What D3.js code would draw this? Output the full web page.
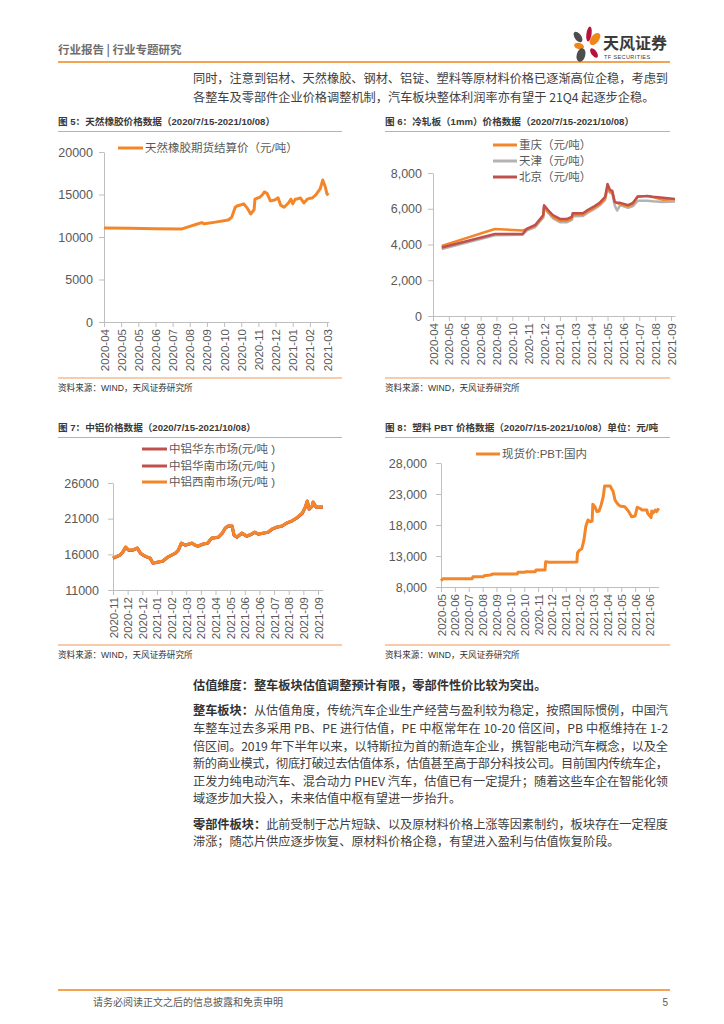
<!DOCTYPE html>
<html><head><meta charset="utf-8">
<script src="https://cdn.jsdelivr.net/npm/d3@7"></script>
<style>body{margin:0;background:#fff}</style>
</head><body>
<svg id="c" width="724" height="1024"></svg>
<script>
// ---------------- DATA ----------------
const rubberLabels = ["2020-04","2020-05","2020-05","2020-06","2020-07","2020-08","2020-09","2020-10","2020-10","2020-11","2020-12","2021-01","2021-02","2021-03"];
const rubberX = [0,30,60,91,100,108,114,117,130,145,149,153,155,160,163,167,171,175,176,182,185,187,190,194,199,203,206,210,215,218,220,223,226,229,233,237,240,243,247,252,255,258,260,262];
const rubberPrice = [11060,11020,10980,10950,11250,11500,11700,11550,11750,12000,12350,13500,13650,13800,13900,13400,12700,13200,14450,14700,15000,15300,15150,14250,14350,14600,13750,13500,14000,14450,13900,14450,14500,14600,14000,14450,14550,14600,14950,15650,16700,15900,15050,14950];
const rubberTicks = [0,5000,10000,15000,20000];

const steelLabels = ["2020-04","2020-05","2020-06","2020-08","2020-09","2020-10","2020-11","2020-12","2021-01","2021-03","2021-04","2021-05","2021-06","2021-07","2021-08","2021-09"];
const steelX = [11,78,113,118,129,135,139,140,145,151,160,169,175,176,189,195,202,210,217,220,223,226,229,232,236,246,252,258,270,277,290,305];
const steelChongqing = [3920,4870,4780,4850,5050,5380,5600,6100,5850,5550,5330,5330,5450,5650,5680,5850,6020,6250,6580,7250,6950,6900,6380,6330,6250,6150,6250,6700,6700,6650,6500,6530];
const steelTianjin = [3740,4520,4550,4780,4980,5300,5500,6050,5780,5480,5250,5250,5380,5580,5600,5780,5950,6180,6500,7150,6900,6850,6200,5900,6200,6050,6150,6450,6450,6420,6380,6400];
const steelBeijing = [3830,4590,4590,4870,5100,5430,5650,6200,5930,5650,5430,5430,5550,5750,5750,5930,6100,6330,6670,7390,7060,7000,6390,6330,6330,6200,6330,6670,6720,6670,6610,6550];
const steelTicks = [0,2000,4000,6000,8000];

const aluLabels = ["2020-11","2020-12","2020-12","2021-01","2021-02","2021-03","2021-03","2021-04","2021-05","2021-06","2021-06","2021-07","2021-08","2021-09","2021-09"];
const aluX = [0,7,10,13,16,20,25,28,31,35,38,41,46,51,56,64,67,70,74,81,84,87,92,97,101,108,112,115,118,122,124,127,132,137,142,145,149,154,159,163,168,173,178,183,188,194,197,199,201,204,205,208,212,215];
const aluHuadong = [15450,15860,16290,16990,16560,16560,16860,16150,15860,15590,15450,14750,14890,15030,15590,16150,16570,17550,17270,17550,17270,17130,17410,17550,18250,18390,18950,19660,19940,19940,18670,18390,18950,18530,18810,19090,18810,18950,19090,19520,19800,19940,20360,20640,21060,21760,22600,23440,22320,22740,23300,22600,22600,22600];
const aluHuanan = [15470,15880,16310,17010,16580,16580,16880,16170,15880,15610,15470,14770,14910,15050,15610,16170,16590,17570,17290,17570,17290,17150,17430,17570,18270,18410,18970,19680,19960,19960,18690,18410,18970,18550,18830,19110,18830,18970,19110,19540,19820,19960,20380,20660,21080,21780,22620,23460,22340,22760,23320,22620,22620,22620];
const aluXinan = [15490,15900,16330,17030,16600,16600,16900,16190,15900,15630,15490,14790,14930,15070,15630,16190,16610,17590,17310,17590,17310,17170,17450,17590,18290,18430,18990,19700,19980,19980,18710,18430,18990,18570,18850,19130,18850,18990,19130,19560,19840,19980,20400,20680,21100,21800,22640,23480,22360,22780,23340,22640,22640,22640];
const aluTicks = [11000,16000,21000,26000];

const pbtLabels = ["2020-05","2020-06","2020-07","2020-08","2020-09","2020-10","2020-10","2020-11","2020-12","2021-01","2021-02","2021-03","2021-04","2021-05","2021-06","2021-06"];
const pbtX = [0,3,45,46,61,62,71,75,110,111,121,122,136,137,150,151,156,196,197,200,203,206,209,212,215,218,219,222,225,228,231,234,236,244,247,248,251,254,258,265,270,275,280,283,287,290,297,298,303,304,306,309,311,314];
const pbtPrice = [9010,9340,9340,9660,9660,9800,9940,10100,10100,10370,10370,10470,10470,10740,10740,12080,12000,12030,13530,13970,14130,15470,17840,18810,18530,18650,21340,20950,20150,20260,21230,22560,24290,24290,23650,23530,22030,21500,21060,20950,20310,19340,19450,20850,20690,20420,20420,19890,19180,20260,19940,20420,20150,20690];
const pbtTicks = [8000,13000,18000,23000,28000];

const headerText = "行业报告 | 行业专题研究";
const introLines = ["同时，注意到铝材、天然橡胶、钢材、铝锭、塑料等原材料价格已逐渐高位企稳，考虑到",
                    "各整车及零部件企业价格调整机制，汽车板块整体利润率亦有望于 21Q4 起逐步企稳。"];
const valHeading = "估值维度：整车板块估值调整预计有限，零部件性价比较为突出。";
const vehicleLead = "整车板块：";
const vehicleLines = ["从估值角度，传统汽车企业生产经营与盈利较为稳定，按照国际惯例，中国汽",
  "车整车过去多采用 PB、PE 进行估值，PE 中枢常年在 10-20 倍区间，PB 中枢维持在 1-2",
  "倍区间。2019 年下半年以来，以特斯拉为首的新造车企业，携智能电动汽车概念，以及全",
  "新的商业模式，彻底打破过去估值体系，估值甚至高于部分科技公司。目前国内传统车企，",
  "正发力纯电动汽车、混合动力 PHEV 汽车，估值已有一定提升；随着这些车企在智能化领",
  "域逐步加大投入，未来估值中枢有望进一步抬升。"];
const partsLead = "零部件板块：";
const partsLines = ["此前受制于芯片短缺、以及原材料价格上涨等因素制约，板块存在一定程度",
  "滞涨；随芯片供应逐步恢复、原材料价格企稳，有望进入盈利与估值恢复阶段。"];
const sourceText = "资料来源：WIND，天风证券研究所";
const footerText = "请务必阅读正文之后的信息披露和免责申明";
const pageNo = "5";

// ---------------- DRAWING ----------------
const svg = d3.select("#c");
svg.append("rect").attr("width",724).attr("height",1024).attr("fill","#fff");
const CJK = "'Noto Sans CJK SC','Liberation Sans',sans-serif";
const MIX = "'Liberation Sans','Noto Sans CJK SC',sans-serif";
const ORANGE = "#F4862A", RED = "#C0504D", GRAY = "#B3B3B3", AXIS = "#BFBFBF", LBL = "#595959";

// header
svg.append("text").attr("x",58).attr("y",54).attr("font-family",CJK).attr("font-size",11.5)
  .attr("font-weight","bold").attr("fill","#6e6e6e").text(headerText);
svg.append("line").attr("x1",58).attr("x2",670).attr("y1",62).attr("y2",62).attr("stroke","#F08519").attr("stroke-width",1.5);
// logo
const petals = [
  [589,34,2.6,7.5,8,"#B5123E"],[578,37,3.3,6,-35,"#4D4D4D"],[595,39,4,7,38,"#F08519"],
  [579,46,3,5,-75,"#F08519"],[581,55,4.3,7,15,"#4D4D4D"],[594,53,2.8,5.5,-35,"#B5123E"]];
const lg = svg.append("g");
petals.forEach(p => lg.append("ellipse").attr("cx",0).attr("cy",0).attr("rx",p[2]).attr("ry",p[3])
  .attr("fill",p[5]).attr("transform",`translate(${p[0]},${p[1]}) rotate(${p[4]})`));
svg.append("text").attr("x",603).attr("y",49).attr("font-family",CJK).attr("font-size",16).attr("font-weight","bold")
  .attr("fill","#3a3a3a").text("天风证券");
svg.append("text").attr("x",604).attr("y",59).attr("font-family",MIX).attr("font-size",5.5).attr("letter-spacing",0.4)
  .attr("fill","#3a3a3a").text("TF SECURITIES");

// paragraph helper
function textLine(x, y, parts, fullWidth) {
  let cx = x;
  parts.forEach((p, i) => {
    const t = svg.append("text").attr("x", cx).attr("y", y).attr("font-family", CJK)
      .attr("font-size", 12.2).attr("fill", p.bold ? "#333" : "#404040").text(p.t);
    if (p.bold) t.attr("font-weight", "bold");
    const w = t.node().getComputedTextLength();
    if (fullWidth && i === parts.length - 1) t.attr("textLength", x + fullWidth - cx).attr("lengthAdjust", "spacing");
    cx += w;
  });
}
const PX = 193, PW = 475;
textLine(PX, 82.5, [{t:introLines[0]}], PW);
textLine(PX, 101.5, [{t:introLines[1]}], null);
textLine(PX, 689.5, [{t:valHeading, bold:true}], null);
const vY = [715, 733, 750.5, 768, 785.5, 803];
vehicleLines.forEach((l, i) => {
  const parts = i === 0 ? [{t:vehicleLead, bold:true},{t:l}] : [{t:l}];
  textLine(PX, vY[i], parts, i < vehicleLines.length - 1 ? PW : null);
});
const pY = [828.5, 846];
partsLines.forEach((l, i) => {
  const parts = i === 0 ? [{t:partsLead, bold:true},{t:l}] : [{t:l}];
  textLine(PX, pY[i], parts, i < partsLines.length - 1 ? PW : null);
});

// footer
svg.append("line").attr("x1",58).attr("x2",670).attr("y1",990).attr("y2",990).attr("stroke","#F08519").attr("stroke-width",1.5);
svg.append("text").attr("x",93).attr("y",1006).attr("font-family",CJK).attr("font-size",10).attr("fill","#595959").text(footerText);
svg.append("text").attr("x",668).attr("y",1006).attr("text-anchor","end").attr("font-family",MIX).attr("font-size",10).attr("fill","#595959").text(pageNo);

// chart frame helper
function frame(x0, x1, titleY, bottomY, title) {
  svg.append("text").attr("x", x0).attr("y", titleY + 3.5).attr("font-family", MIX).attr("font-size", 9.6)
    .attr("font-weight", "bold").attr("fill", "#3a3a3a").text(title);
  svg.append("line").attr("x1", x0).attr("x2", x1).attr("y1", titleY + 10.5).attr("y2", titleY + 10.5)
    .attr("stroke", "#F4A460").attr("stroke-width", 1);
  svg.append("line").attr("x1", x0).attr("x2", x1).attr("y1", bottomY).attr("y2", bottomY)
    .attr("stroke", "#F8CBAD").attr("stroke-width", 1.8);
  svg.append("text").attr("x", x0).attr("y", bottomY + 13).attr("font-family", MIX).attr("font-size", 8.6)
    .attr("fill", "#333").text(sourceText);
}

function chart(cfg) {
  const x = d3.scaleLinear().domain([0, cfg.xMax]).range([cfg.left, cfg.left + cfg.xMax * cfg.pxPerIdx]);
  const y = d3.scaleLinear().domain(cfg.yDomain).range(cfg.yRange);
  const g = svg.append("g");
  const ya = g.append("g").attr("transform", `translate(${cfg.left},0)`)
    .call(d3.axisLeft(y).tickValues(cfg.yTicks).tickFormat(cfg.yFmt).tickSize(5).tickSizeOuter(0).tickPadding(cfg.pad));
  const xa = g.append("g").attr("transform", `translate(0,${cfg.yRange[0]})`)
    .call(d3.axisBottom(x).tickValues(cfg.labels.map((_, i) => i * cfg.step))
      .tickFormat((d, i) => cfg.labels[i]).tickSize(5).tickSizeOuter(0));
  [ya, xa].forEach(a => {
    a.select(".domain").attr("stroke", AXIS);
    a.selectAll(".tick line").attr("stroke", AXIS);
    a.selectAll(".tick text").attr("fill", LBL).attr("font-family", MIX);
  });
  ya.selectAll(".tick text").attr("font-size", 12.5);
  xa.selectAll(".tick text").attr("font-size", 11.5).attr("transform", "rotate(-90)")
    .attr("text-anchor", "end").attr("x", -7).attr("y", 0).attr("dy", "0.35em");
  const line = d3.line().x(d => x(d[0])).y(d => y(d[1]));
  cfg.series.forEach(s => {
    g.append("path").datum(s.xs.map((v, i) => [v, s.ys[i]])).attr("d", line)
      .attr("fill", "none").attr("stroke", s.color).attr("stroke-width", s.w)
      .attr("stroke-linejoin", "round");
  });
  cfg.legend.forEach(l => {
    g.append("line").attr("x1", l.x).attr("x2", l.x + l.len).attr("y1", l.y).attr("y2", l.y)
      .attr("stroke", l.color).attr("stroke-width", 3);
    g.append("text").attr("x", l.x + l.len + 2).attr("y", l.y + 4).attr("font-family", MIX)
      .attr("font-size", 11.5).attr("fill", LBL).text(l.text);
  });
}

// Figure 5
frame(58, 342, 121, 378, "图 5：天然橡胶价格数据（2020/7/15-2021/10/08）");
chart({left:104, xMax:262, pxPerIdx:223/260, step:20, labels:rubberLabels,
  yDomain:[0,20000], yRange:[322,152], yTicks:rubberTicks, yFmt:d3.format("d"), pad:6,
  series:[{xs:rubberX, ys:rubberPrice, color:ORANGE, w:3}],
  legend:[{x:118, y:148, len:25, color:ORANGE, text:"天然橡胶期货结算价（元/吨）"}]});

// Figure 6
frame(385, 670, 121, 378, "图 6：冷轧板（1mm）价格数据（2020/7/15-2021/10/08）");
chart({left:433, xMax:305, pxPerIdx:238/300, step:20, labels:steelLabels,
  yDomain:[0,8000], yRange:[316,173], yTicks:steelTicks, yFmt:d3.format(","), pad:6,
  series:[{xs:steelX, ys:steelTianjin, color:GRAY, w:2.5},
          {xs:steelX, ys:steelChongqing, color:ORANGE, w:2.5},
          {xs:steelX, ys:steelBeijing, color:RED, w:2.5}],
  legend:[{x:493, y:145, len:24, color:ORANGE, text:"重庆（元/吨）"},
          {x:493, y:161, len:24, color:GRAY, text:"天津（元/吨）"},
          {x:493, y:177, len:24, color:RED, text:"北京（元/吨）"}]});

// Figure 7
frame(58, 342, 427, 645, "图 7：中铝价格数据（2020/7/15-2021/10/08）");
chart({left:113, xMax:215, pxPerIdx:205/210, step:15, labels:aluLabels,
  yDomain:[11000,26000], yRange:[590,483], yTicks:aluTicks, yFmt:d3.format("d"), pad:9,
  series:[{xs:aluX, ys:aluHuadong, color:RED, w:3},
          {xs:aluX, ys:aluHuanan, color:RED, w:3},
          {xs:aluX, ys:aluXinan, color:ORANGE, w:3}],
  legend:[{x:142, y:449, len:25, color:RED, text:"中铝华东市场(元/吨 )"},
          {x:142, y:466, len:25, color:RED, text:"中铝华南市场(元/吨 )"},
          {x:142, y:482, len:25, color:ORANGE, text:"中铝西南市场(元/吨 )"}]});

// Figure 8
frame(385, 670, 427, 645, "图 8：塑料 PBT 价格数据（2020/7/15-2021/10/08）单位：元/吨");
chart({left:441, xMax:314, pxPerIdx:208/300, step:20, labels:pbtLabels,
  yDomain:[8000,28000], yRange:[587,463], yTicks:pbtTicks, yFmt:d3.format(","), pad:9,
  series:[{xs:pbtX, ys:pbtPrice, color:ORANGE, w:3}],
  legend:[{x:476, y:454, len:24, color:ORANGE, text:"现货价:PBT:国内"}]});
</script>
</body></html>
